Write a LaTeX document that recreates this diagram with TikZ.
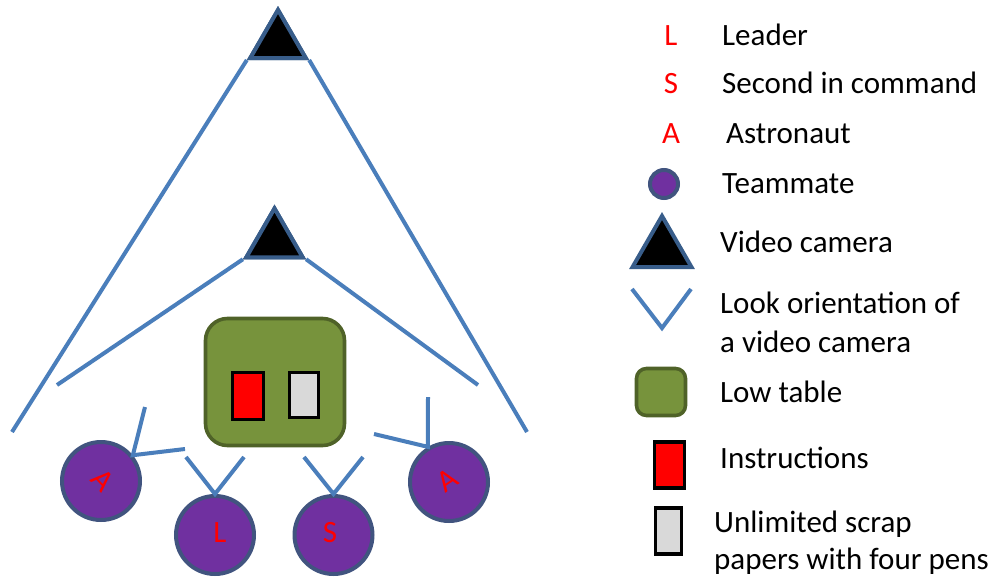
\documentclass[tikz,border=0pt]{standalone}
\usepackage{fontspec}
\setmainfont{Carlito}
\usepackage{tikz}
\usetikzlibrary{shapes.geometric, positioning}
\definecolor{viewblue}{HTML}{4A7EBB}
\definecolor{camedge}{HTML}{385D8A}
\definecolor{mateviolet}{HTML}{7030A0}
\definecolor{mateedge}{HTML}{41547F}
\definecolor{tablegreen}{HTML}{77933C}
\definecolor{tableedge}{HTML}{4F6228}
\definecolor{scrapgray}{HTML}{D9D9D9}
\tikzstyle{view} = [draw=viewblue, line width=4pt]
\tikzstyle{camera} = [regular polygon, regular polygon sides=3, fill=black, draw=camedge, line width=4pt, inner sep=0pt, minimum size=64pt]
\tikzstyle{mate} = [circle, fill=mateviolet, draw=mateedge, line width=4pt, inner sep=0pt, minimum size=78pt]
\tikzstyle{role} = [text=red, inner sep=0pt, font=\fontsize{31}{37}\selectfont]
\tikzstyle{lowtable} = [rectangle, rounded corners=22pt, fill=tablegreen, draw=tableedge, line width=3.6pt, minimum width=139pt, minimum height=127pt]
\tikzstyle{paper} = [rectangle, draw=black, line width=3.8pt, inner sep=0pt, minimum width=29pt, minimum height=45pt]
\tikzstyle{legend} = [anchor=base west, inner sep=0pt, font=\fontsize{31}{37}\selectfont]

\begin{document}
\begin{tikzpicture}[x=1pt, y=-1pt]
\useasboundingbox (0,0) rectangle (996,576);

% Cameras and their view lines
\coordinate (topL) at (12,432);
\coordinate (topR) at (527,432);
\coordinate (midL) at (57,385);
\coordinate (midR) at (478,385);
\node[camera] (topcam) at (278,42) {};
\node[camera, minimum size=65pt] (midcam) at (274.5,241) {};
\draw[view] (topcam.corner 2) -- (topL);
\draw[view] (topcam.corner 3) -- (topR);
\draw[view] (midcam.corner 2) -- (midL);
\draw[view] (midcam.corner 3) -- (midR);
\node[camera] at (topcam) {};
\node[camera, minimum size=65pt] at (midcam) {};

% Low table with papers
\node[lowtable] (table) at (275,382) {};
\node[paper, fill=red, minimum width=31pt, minimum height=47pt] (instr) at (248,396) {};
\node[paper, fill=scrapgray] (scrap) at (304,395) {};

% Teammates
\node[mate] (astroA) at (101,481) {};
\node[mate] (leader) at (215,535) {};
\node[mate] (second) at (333.5,535) {};
\node[mate] (astroB) at (449,482) {};
\node[role, rotate=-47] at (103,480) {A};
\node[role, anchor=base] at (220,542) {L};
\node[role, anchor=base] at (330,542) {S};
\node[role, rotate=34] at (447,480) {A};

% Look orientation of each teammate
\coordinate (aUp) at (145,407);
\coordinate (aSide) at (185,449);
\coordinate (lLeft) at (186,457);
\coordinate (lRight) at (244,457);
\coordinate (sLeft) at (304,457);
\coordinate (sRight) at (363,457);
\coordinate (bSide) at (374,434);
\coordinate (bUp) at (428,397);
\draw[view] (aUp) -- (astroA.39) -- (aSide);
\draw[view] (lLeft) -- (leader.north) -- (lRight);
\draw[view] (sLeft) -- (second.north) -- (sRight);
\draw[view] (bSide) -- (astroB.121) -- (bUp);

% Legend
\node[role, anchor=base] (keyL) at (671,45) {L};
\node[legend] at (722,45) {Leader};
\node[role, anchor=base] (keyS) at (671,93) {S};
\node[legend] at (722,93) {Second in command};
\node[role, anchor=base] (keyA) at (671,143) {A};
\node[legend] at (726,143) {Astronaut};
\node[mate, minimum size=28pt] (keymate) at (664,184) {};
\node[legend] at (722,193) {Teammate};
\node[camera, minimum size=68pt] (keycam) at (662,250) {};
\node[legend] at (720,252) {Video camera};
\coordinate (keyV1) at (632,289);
\coordinate (keyV2) at (662,328);
\coordinate (keyV3) at (691,289);
\draw[view] (keyV1) -- (keyV2) -- (keyV3);
\node[legend] at (720,313) {Look orientation of};
\node[legend] at (720,352) {a video camera};
\node[lowtable, rounded corners=10pt, minimum width=49pt, minimum height=47pt] (keytable) at (661,392) {};
\node[legend] at (720,402) {Low table};
\node[paper, fill=red, minimum width=30pt, minimum height=46pt] (keyinstr) at (669.5,465) {};
\node[legend] at (720,468) {Instructions};
\node[paper, fill=scrapgray, minimum width=26pt, minimum height=46pt] (keyscrap) at (668.5,531) {};
\node[legend] at (714,532) {Unlimited scrap};
\node[legend] at (714,569) {papers with four pens};
\end{tikzpicture}
\end{document}
